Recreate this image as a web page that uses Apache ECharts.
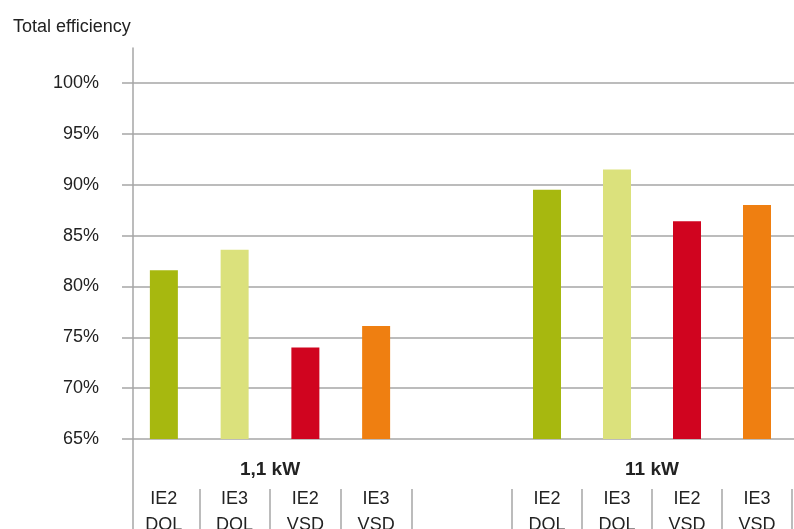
<!DOCTYPE html>
<html>
<head>
<meta charset="utf-8">
<script src="https://cdn.jsdelivr.net/npm/echarts@6/dist/echarts.min.js"></script>
<style>
  html, body { margin: 0; padding: 0; background: #fff; }
  #main { width: 794px; height: 529px; }
</style>
</head>
<body>
<div id="main"></div>
<script>
var groups = ['1,1 kW', '11 kW'];
var motors = ['IE2\nDOL', 'IE3\nDOL', 'IE2\nVSD', 'IE3\nVSD'];
var eff_1_1kW = [81.6, 83.6, 74.0, 76.1];
var eff_11kW = [89.5, 91.5, 86.4, 88.0];
var barColors = ['#a7b80f', '#dbe17c', '#d0041f', '#ef7f11'];
var yMin = 65, yMax = 100, yStep = 5;

var gridColor = '#a6a6a6';
var textColor = '#222';
var font = 'Liberation Sans, Arial, sans-serif';

var chart = echarts.init(document.getElementById('main'), null, { renderer: 'canvas' });

function nameAxis(gridIndex, name) {
  return {
    type: 'category', gridIndex: gridIndex, data: motors, position: 'bottom',
    axisLine: { show: false }, axisTick: { show: false }, axisLabel: { show: false },
    name: name, nameLocation: 'middle', nameGap: 21,
    nameTextStyle: { fontFamily: font, fontSize: 19, fontWeight: 'bold', color: textColor }
  };
}
function motorAxis(gridIndex, skipFirst) {
  return {
    type: 'category', gridIndex: gridIndex, data: motors, position: 'bottom', offset: 50,
    axisLine: { show: false },
    axisTick: {
      show: true, length: 40,
      interval: skipFirst ? function (i) { return i !== 0; } : 0,
      lineStyle: { color: gridColor, width: 1.5 }
    },
    axisLabel: { interval: 0, margin: -3, fontFamily: font, fontSize: 18, lineHeight: 26, color: textColor }
  };
}
function hiddenY(gridIndex) {
  return { type: 'value', gridIndex: gridIndex, min: yMin, max: yMax, show: false };
}

var option = {
  animation: false,
  color: barColors,
  title: {
    text: 'Total efficiency', left: 8, top: 13,
    textStyle: { fontFamily: font, fontSize: 18, fontWeight: 'normal', color: textColor }
  },
  grid: [
    { left: 122, right: 0, top: 83, bottom: 90, outerBoundsMode: 'none' },      // gridlines + labels
    { left: 128.5, width: 283, top: 83, bottom: 90, outerBoundsMode: 'none' },  // 1,1 kW
    { left: 512, width: 280, top: 83, bottom: 90, outerBoundsMode: 'none' },    // 11 kW
    { left: 133, width: 1, top: 48, bottom: 0, outerBoundsMode: 'none' }        // vertical axis line
  ],
  xAxis: [
    { type: 'value', gridIndex: 0, show: false },
    nameAxis(1, groups[0]),
    motorAxis(1, true),
    nameAxis(2, groups[1]),
    motorAxis(2, false),
    { type: 'value', gridIndex: 3, show: false }
  ],
  yAxis: [
    {
      type: 'value', gridIndex: 0, min: yMin, max: yMax, interval: yStep,
      axisLine: { show: false }, axisTick: { show: false },
      splitLine: { show: true, lineStyle: { color: gridColor, width: 1.5 } },
      axisLabel: { formatter: '{value}%', margin: 23, fontFamily: font, fontSize: 18, color: textColor }
    },
    hiddenY(1),
    hiddenY(2),
    {
      type: 'value', gridIndex: 3, min: 0, max: 1,
      axisLine: { show: true, lineStyle: { color: gridColor, width: 1.5 } },
      axisTick: { show: false }, axisLabel: { show: false }, splitLine: { show: false }
    }
  ],
  series: [
    {
      name: groups[0], type: 'bar', xAxisIndex: 2, yAxisIndex: 1,
      colorBy: 'data', barWidth: 28, data: eff_1_1kW
    },
    {
      name: groups[1], type: 'bar', xAxisIndex: 4, yAxisIndex: 2,
      colorBy: 'data', barWidth: 28, data: eff_11kW
    }
  ]
};
chart.setOption(option);
</script>
</body>
</html>
